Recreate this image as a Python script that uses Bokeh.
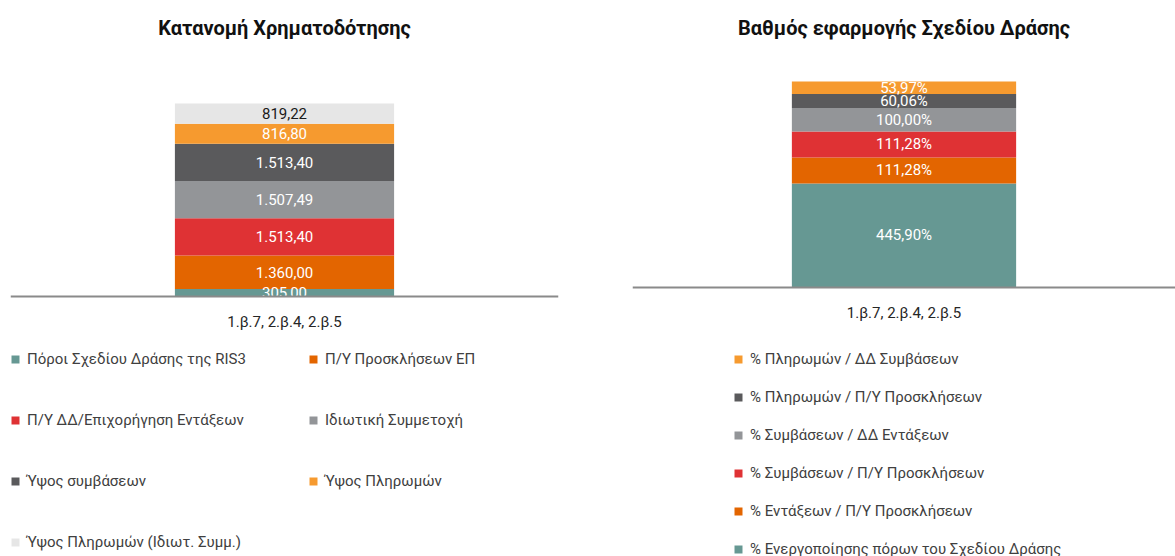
from bokeh.plotting import figure
from bokeh.models import ColumnDataSource, Range1d, FactorRange, Legend, LegendItem
from bokeh.layouts import row
from bokeh.embed import file_html
from bokeh.resources import INLINE
from bokeh.core.properties import value

FONT = "Roboto"

category = ["1.β.7, 2.β.4, 2.β.5"]

left_title = "Κατανομή Χρηματοδότησης"
left_series = ["Πόροι Σχεδίου Δράσης της RIS3", "Π/Υ Προσκλήσεων ΕΠ",
               "Π/Υ ΔΔ/Επιχορήγηση Εντάξεων", "Ιδιωτική Συμμετοχή",
               "Ύψος συμβάσεων", "Ύψος Πληρωμών", "Ύψος Πληρωμών (Ιδιωτ. Συμμ.)"]
left_values = [305.00, 1360.00, 1513.40, 1507.49, 1513.40, 816.80, 819.22]
left_colors = ["#669893", "#E36500", "#DF3234", "#939598", "#5A5A5C", "#F69A2F", "#E6E6E6"]
left_label_colors = ["white", "white", "white", "white", "white", "white", "#1a1a1a"]

right_title = "Βαθμός εφαρμογής Σχεδίου Δράσης"
right_series = ["% Ενεργοποίησης πόρων του Σχεδίου Δράσης", "% Εντάξεων / Π/Υ Προσκλήσεων",
                "% Συμβάσεων / Π/Υ Προσκλήσεων", "% Συμβάσεων / ΔΔ Εντάξεων",
                "% Πληρωμών / Π/Υ Προσκλήσεων", "% Πληρωμών / ΔΔ Συμβάσεων"]
right_values = [445.90, 111.28, 111.28, 100.00, 60.06, 53.97]
right_colors = ["#669893", "#E36500", "#DF3234", "#939598", "#5A5A5C", "#F69A2F"]
right_label_colors = ["white"] * 6

H = 556
TOP = 40      # frame top (px from figure top)
BOTTOM = 0    # axis uses fixed_location, so it takes no panel space


def gr(v, suffix=""):
    s = f"{v:,.2f}"
    return s.replace(",", "X").replace(".", ",").replace("X", ".") + suffix


def make_chart(title, values, colors, label_colors, suffix, width, bl, br, base_y, bar_px, bar_w):
    # base_y: figure-pixel y of the baseline; bar_px: pixel height of the full stack
    keys = [f"s{i}" for i in range(len(values))]
    data = {"cat": category}
    for k, v in zip(keys, values):
        data[k] = [v]
    src = ColumnDataSource(data)
    total = sum(values)
    ppu = bar_px / total
    frame_top, frame_bot = TOP, H - BOTTOM
    y_end = (base_y - frame_top) / ppu
    y_start = -(frame_bot - base_y) / ppu
    p = figure(x_range=FactorRange(*category), y_range=Range1d(y_start, y_end),
               width=width, height=H, output_backend="svg", toolbar_location=None,
               y_axis_location=None, min_border_left=bl, min_border_right=br,
               min_border_bottom=BOTTOM, min_border_top=TOP)
    rs = p.vbar_stack(keys, x="cat", width=bar_w, fill_color=colors, line_color=None, source=src)
    mids, cum = [], 0
    for v in values:
        mids.append(cum + v / 2)
        cum += v
    lsrc = ColumnDataSource(dict(x=category * len(values), y=mids,
                                 text=[gr(v, suffix) for v in values], c=label_colors))
    p.text(x="x", y="y", text="text", text_color="c", source=lsrc, text_align="center",
           text_baseline="middle", text_font=value(FONT), text_font_size="15px")
    p.title.text = title
    p.title.align = "center"
    p.title.text_font = FONT
    p.title.text_font_size = "20px"
    p.title.text_font_style = "bold"
    p.title.text_color = "#111111"
    p.title.standoff = 2
    p.xgrid.visible = False
    p.ygrid.visible = False
    p.outline_line_color = None
    ax = p.xaxis[0]
    ax.fixed_location = 0
    ax.axis_line_color = "#8a8a8a"
    ax.axis_line_width = 2
    ax.major_tick_line_color = None
    ax.minor_tick_line_color = None
    ax.major_label_standoff = 10
    ax.major_label_text_font = FONT
    ax.major_label_text_font_size = "15px"
    ax.major_label_text_color = "#262626"
    return p, rs


left, lrs = make_chart(left_title, left_values, left_colors, left_label_colors, "",
                       590, 10, 32, 296, 193, 0.4)
right, rrs = make_chart(right_title, right_values, right_colors, right_label_colors, "%",
                        585, 42, 0, 287, 206, 0.413)

common = dict(glyph_width=10, glyph_height=10, label_standoff=7, padding=0, margin=0,
              border_line_color=None, background_fill_alpha=0, label_text_font=FONT,
              label_text_font_size="15px", label_text_color="#404040", label_height=20)

lleg = Legend(items=[LegendItem(label=s, renderers=[r]) for s, r in zip(left_series, lrs)],
              orientation="horizontal", ncols=2, spacing=41, label_width=240,
              location=(0, 4), **common)
left.add_layout(lleg)

ritems = [LegendItem(label=s, renderers=[r]) for s, r in zip(right_series, rrs)][::-1]
rleg = Legend(items=ritems, orientation="vertical", spacing=18,
              location=(101, -3), **common)
right.add_layout(rleg)

layout = row(left, right)
open("out.html", "w").write(file_html(layout, INLINE))
